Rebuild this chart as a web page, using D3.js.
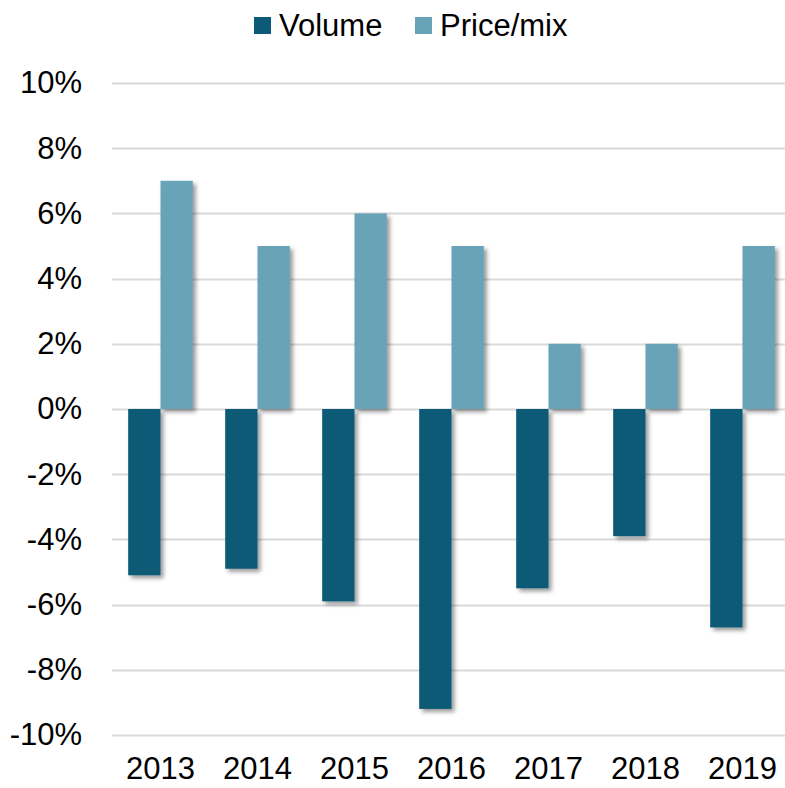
<!DOCTYPE html>
<html>
<head>
<meta charset="utf-8">
<script src="https://cdn.jsdelivr.net/npm/d3@7"></script>
<style>
  body { margin: 0; background: #fff; }
  text { font-family: Arial, "Liberation Sans", sans-serif; fill: #000; }
</style>
</head>
<body>
<svg id="canvas" width="785" height="788"></svg>
<script>
let years = ['2013', '2014', '2015', '2016', '2017', '2018', '2019']
let volume = [-5.1, -4.9, -5.9, -9.2, -5.5, -3.9, -6.7]
let priceMix = [7, 5, 6, 5, 2, 2, 5]
let seriesNames = ['Volume', 'Price/mix']
let seriesColors = ['#0b5a77', '#67a3b7']
let yTicks = [-10, -8, -6, -4, -2, 0, 2, 4, 6, 8, 10]

let canvas = d3.select('#canvas')

// soft drop shadow like the office chart
let defs = canvas.append('defs')
defs.append('filter')
    .attr('id', 'shadow')
    .attr('x', '-20%').attr('y', '-20%')
    .attr('width', '160%').attr('height', '160%')
    .append('feDropShadow')
    .attr('dx', 3).attr('dy', 3)
    .attr('stdDeviation', 2.2)
    .attr('flood-color', '#000')
    .attr('flood-opacity', 0.4)

let xScale = d3.scaleBand()
    .domain(years)
    .range([112, 791])
    .paddingInner(1 / 3)
    .paddingOuter(1 / 6)

let subScale = d3.scaleBand()
    .domain(seriesNames)
    .range([0, xScale.bandwidth()])

let yScale = d3.scaleLinear()
    .domain([-10, 10])
    .range([735, 83])

// gridlines
canvas.append('g')
    .selectAll('line')
    .data(yTicks)
    .enter()
    .append('line')
    .attr('x1', 112)
    .attr('x2', 791)
    .attr('y1', (d) => Math.round(yScale(d)) + 0.5)
    .attr('y2', (d) => Math.round(yScale(d)) + 0.5)
    .attr('stroke', '#d9d9d9')
    .attr('stroke-width', 2)

// y axis labels
let yAxis = d3.axisLeft(yScale)
    .tickValues(yTicks)
    .tickFormat((d) => d + '%')
    .tickSize(0)
    .tickPadding(0)
let yG = canvas.append('g')
    .attr('transform', 'translate(82,0)')
    .call(yAxis)
yG.select('.domain').remove()
yG.selectAll('text')
    .style('font-size', '31px')
    .style('font-family', 'Arial, "Liberation Sans", sans-serif')
    .attr('fill', '#000')

// x axis labels
let xAxis = d3.axisBottom(xScale).tickSize(0).tickPadding(0)
let xG = canvas.append('g')
    .attr('transform', 'translate(0,757)')
    .call(xAxis)
xG.select('.domain').remove()
xG.selectAll('text')
    .style('font-size', '31px')
    .style('font-family', 'Arial, "Liberation Sans", sans-serif')
    .attr('fill', '#000')

// bars
let rows = years.map((y, i) => ({ year: y, values: [volume[i], priceMix[i]] }))
let group = canvas.selectAll('g.year')
    .data(rows)
    .enter()
    .append('g')
    .attr('class', 'year')
    .attr('transform', (d) => 'translate(' + xScale(d.year) + ',0)')
group.selectAll('rect')
    .data((d) => d.values.map((v, j) => ({ series: seriesNames[j], value: v, color: seriesColors[j] })))
    .enter()
    .append('rect')
    .attr('x', (d) => subScale(d.series))
    .attr('y', (d) => yScale(Math.max(0, d.value)))
    .attr('width', subScale.bandwidth())
    .attr('height', (d) => Math.abs(yScale(d.value) - yScale(0)))
    .attr('fill', (d) => d.color)
    .attr('filter', 'url(#shadow)')

// legend
let legendX = [254, 415]
let legend = canvas.append('g')
    .selectAll('g')
    .data(seriesNames)
    .enter()
    .append('g')
    .attr('transform', (d, i) => 'translate(' + legendX[i] + ',17)')
legend.append('rect')
    .attr('width', 17)
    .attr('height', 17)
    .attr('fill', (d, i) => seriesColors[i])
legend.append('text')
    .attr('x', 25)
    .attr('y', 19)
    .style('font-size', '31px')
    .text((d) => d)
</script>
</body>
</html>
